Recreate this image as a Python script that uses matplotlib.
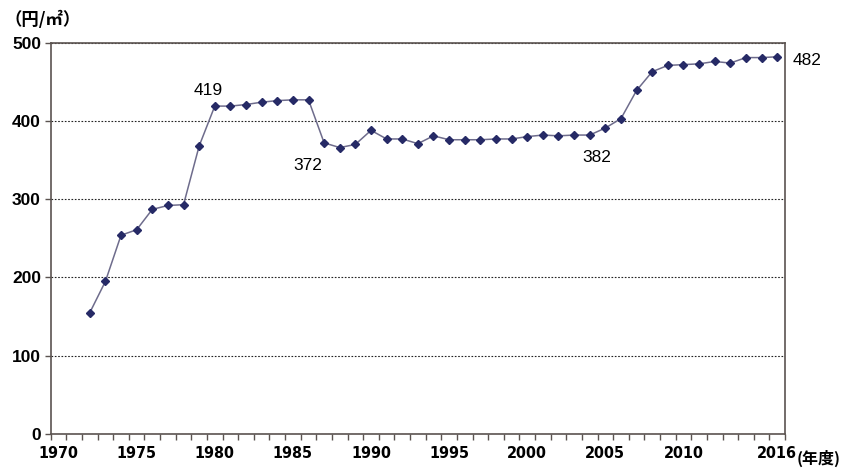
import matplotlib.pyplot as plt
from matplotlib.ticker import FixedLocator

years = list(range(1972, 2017))
price = [155, 195, 254, 261, 287, 292, 293, 368, 419, 419, 421, 424, 426, 427, 427,
         372, 366, 370, 388, 377, 377, 371, 381, 376, 376, 376, 377, 377, 380, 382,
         381, 382, 382, 391, 403, 439, 463, 471, 472, 473, 476, 474, 481, 481, 482]
tick_years = [1970, 1975, 1980, 1985, 1990, 1995, 2000, 2005, 2010, 2016]
callouts = {1980: (-5, 11), 1987: (-12, -16), 2004: (5, -16)}

plt.rcParams['font.family'] = ['Liberation Sans', 'Noto Sans CJK JP', 'DejaVu Sans']
spine_col = '#5b5350'

fig = plt.figure(figsize=(8.47, 4.73), dpi=100)
ax = fig.add_axes([0.0599, 0.0825, 0.8669, 0.8272])

ax.plot(years, price, color='#6e6c8c', lw=1.1, marker='D', ms=4.5,
        mfc='#262a66', mec='#262a66', zorder=3)

ax.set_xlim(1969.5, 2016.5)
ax.set_ylim(0, 500)
ax.set_yticks([0, 100, 200, 300, 400, 500])
ax.yaxis.grid(True, ls=(0, (1.5, 1.5)), color='#222222', lw=0.8)
ax.set_axisbelow(True)

ax.xaxis.set_major_locator(FixedLocator(tick_years))
ax.set_xticklabels([str(y) for y in tick_years])
for lab in ax.get_xticklabels():
    lab.set_family('DejaVu Sans')
    lab.set_stretch('condensed')
    lab.set_fontweight('bold')
    lab.set_fontsize(11.5)
ax.xaxis.set_minor_locator(FixedLocator([y - 0.5 for y in range(1970, 2018)]))
ax.tick_params(axis='x', which='major', length=0, pad=9)
ax.tick_params(axis='x', which='minor', length=4, width=1, color=spine_col, direction='out')
ax.tick_params(axis='y', length=4, width=1, color=spine_col, labelsize=12.5, pad=3)
for lab in ax.get_yticklabels():
    lab.set_fontweight('bold')

for s in ax.spines.values():
    s.set_color(spine_col)
    s.set_linewidth(1.2)

for yr, (dx, dy) in callouts.items():
    v = price[years.index(yr)]
    ax.annotate(str(v), (yr, v), xytext=(dx, dy), textcoords='offset points',
                ha='center', va='center', fontsize=12.5)
ax.annotate(str(price[-1]), (years[-1], price[-1]), xytext=(11, -3), textcoords='offset points',
            ha='left', va='center', fontsize=12.5, annotation_clip=False)

fig.text(0.005, 0.957, '（円/㎡）', fontsize=12.5, fontweight='bold', va='center', ha='left',
         family=['Noto Sans CJK JP', 'DejaVu Sans'])
fig.text(0.940, 0.030, '(年度)', fontsize=11.5, fontweight='bold', va='center', ha='left',
         family=['Noto Sans CJK JP', 'DejaVu Sans'])

fig.savefig('out.png', dpi=100)
